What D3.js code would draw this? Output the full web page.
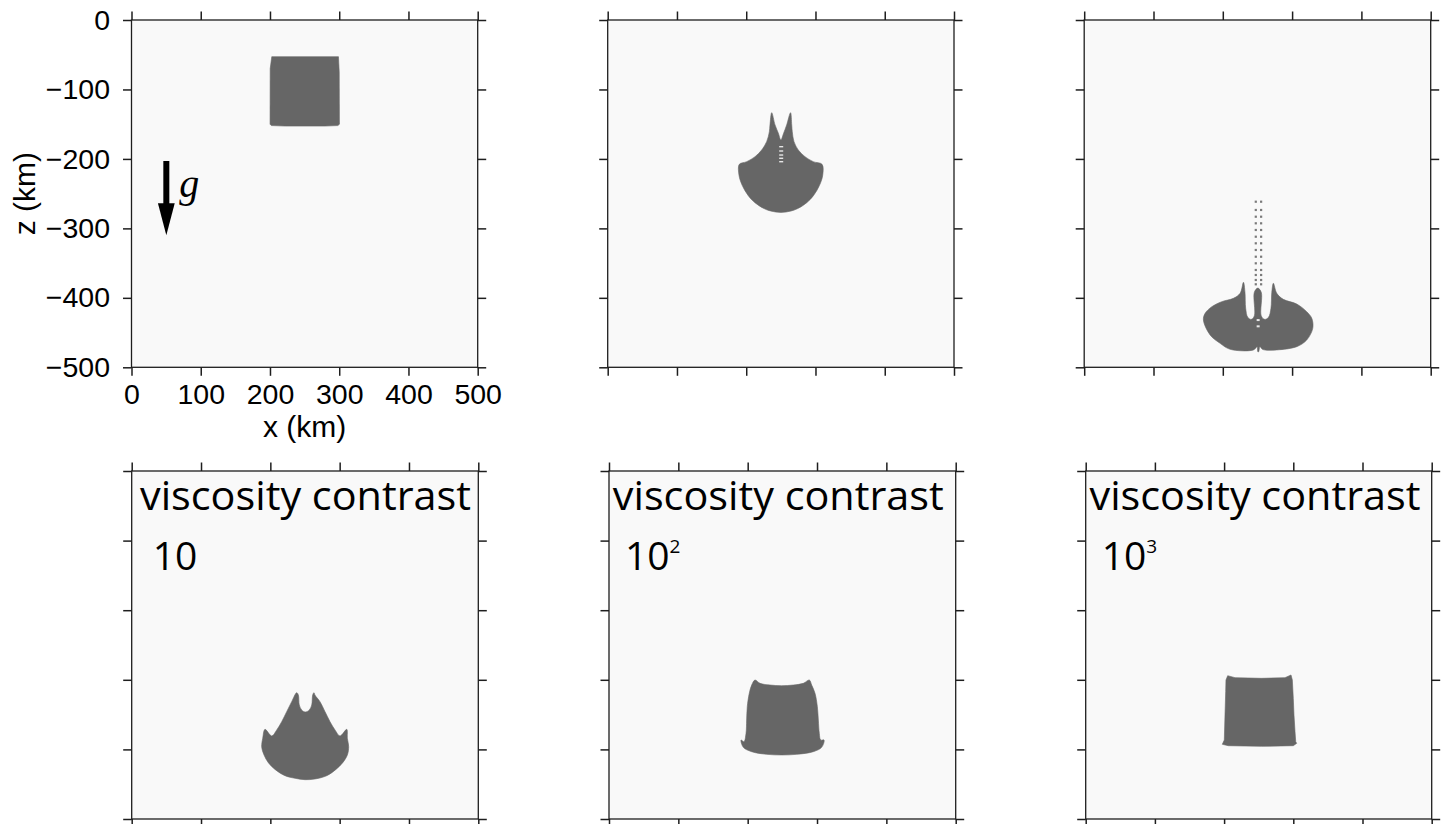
<!DOCTYPE html>
<html>
<head>
<meta charset="utf-8">
<script src="https://cdn.jsdelivr.net/npm/d3@7"></script>
<style>
  html, body { margin: 0; padding: 0; background: #ffffff; }
  svg { display: block; }
</style>
</head>
<body>
<svg id="fig" width="1445" height="824"></svg>
<script>
// Sinking dense block in a 500 x 500 km box: composition snapshots.
const xTicks = [0, 100, 200, 300, 400, 500];
const zTicks = [0, -100, -200, -300, -400, -500];

// Block outlines, [x km, z km]
const blockInitial = [
  [202.6, -52.8], [298.9, -52.8], [300.0, -75], [300.3, -150], [298.0, -152],
  [279.6, -152.7], [221.8, -152.7], [202.0, -152], [200.1, -150], [200.3, -70]
];
const blockEarly = [
  [236.8, -133.4], [241.6, -151], [246.4, -163], [250.0, -172.5], [254.0, -163],
  [258.4, -151], [264.0, -133.4], [265.7, -151], [266.5, -160.8], [269.0, -175.2],
  [275.2, -187.2], [284.9, -196.8], [296.9, -204], [309.5, -207.8], [310.5, -223],
  [305.8, -238], [297.0, -253], [287.4, -263], [275.3, -271], [264.8, -275],
  [250.0, -277], [235.2, -275], [224.7, -271], [212.6, -263], [203.0, -253],
  [194.2, -238], [189.5, -223], [190.0, -207.8], [200.6, -204], [212.7, -196.8],
  [222.3, -187.2], [229.5, -175.2], [233.4, -160.8], [234.3, -151]
];
const blockLate = [
  [229.8, -377.7], [232.0, -392], [233.0, -415], [236.0, -428], [241.0, -431],
  [245.5, -426], [245.5, -392], [250.5, -386], [255.5, -392], [255.5, -426],
  [260.5, -431], [266.0, -428], [269.5, -415], [270.7, -392], [273.0, -379],
  [277.9, -393.5], [287.4, -402.2], [306.7, -408.9], [321.1, -420], [328.4, -429.5],
  [329.8, -443.9], [321.1, -460.7], [306.7, -470.3], [277.9, -475], [258.0, -474.5],
  [253.5, -470.3], [251.8, -477.5], [250.6, -477.5], [249.5, -470.3], [244.2, -475],
  [210.6, -474.1], [196.1, -465.5], [181.7, -453.5], [172.0, -431.9], [174.5, -422.3],
  [184.2, -412.7], [198.5, -405.5], [215.3, -400.7], [225.0, -393.5]
];
const blockContrast1 = [
  [238.0, -318.5], [240.4, -321.8], [241.8, -336.2], [245.2, -343.4], [250.5, -346.3],
  [256.2, -343.4], [259.7, -336.2], [261.1, -321.8], [263.0, -318.5], [264.4, -322],
  [271.6, -331.4], [278.9, -345.8], [286.1, -360.2], [293.3, -372.1], [300.5, -380.7],
  [310.2, -371.2], [311.1, -384.1], [313.0, -396.1], [311.1, -408], [304.4, -419.1],
  [294.7, -428.7], [281.3, -437.8], [264.4, -442.5], [250.0, -443.5], [235.6, -441.5],
  [221.2, -437.8], [206.7, -428.7], [197.1, -419.1], [190.9, -408], [187.5, -396.1],
  [189.0, -384.1], [192.3, -371.2], [202.0, -380.7], [209.2, -372.1], [216.4, -360.2],
  [223.6, -345.8], [230.8, -331.4]
];
const blockContrast2 = [
  [210.6, -300.3], [217.8, -305.1], [232.2, -307.5], [249.0, -308.5], [265.8, -307.5],
  [280.2, -305.1], [288.9, -300.3], [292.3, -307.5], [297.1, -319.4], [300.5, -338.6],
  [301.9, -357.8], [303.3, -376.9], [305.3, -386.5], [310.1, -386.5], [306.7, -397],
  [294.6, -403.3], [270.7, -407.1], [249.0, -408.0], [227.4, -407.1], [205.8, -403.3],
  [193.7, -397], [190.4, -386.5], [194.7, -388.9], [197.6, -376.9], [198.5, -357.8],
  [199.4, -338.6], [202.3, -319.4], [205.8, -307.5]
];
const blockContrast3 = [
  [205.2, -294.1], [215.8, -296.9], [254.3, -297.9], [288.0, -296.9], [296.7, -293.1],
  [298.6, -300.3], [300.0, -326.7], [301.0, -350.6], [302.5, -374.6], [303.5, -388.9],
  [304.9, -391.3], [300.0, -394.7], [254.3, -395.6], [206.1, -394.7], [197.4, -392.7],
  [200.3, -386.5], [201.3, -350.6], [202.3, -317.1], [202.7, -300.3]
];

// Light gaps inside the early-stage block, z km
const earlyGaps = [-182.4, -188.6, -194.4, -199.1, -204.0];
// Trailing conduit left behind by the late-stage block
const conduitX = [247.6, 255.3];
const conduitZ = [-261.6, -273.5, -283.2, -292.7, -302.3, -312.0, -321.5, -331.1,
                  -340.8, -350.3, -359.9, -367.1, -374.3, -380.5];
const lateSpecks = [[251.0, -432.0], [251.0, -441.0]];

// Gravity arrow (km)
const gravity = { x: 50.3, zTop: -203, zHead: -264, zTip: -310 };

const contrastTitle = "viscosity contrast";
const contrastBase = ["10", "10", "10"];
const contrastExp = [null, "2", "3"];

const panels = [
  { left: 131.5, top: 20,  w: 346.2, h: 347.3, shape: blockInitial, smooth: false, labels: true },
  { left: 607.7, top: 20,  w: 346.3, h: 347.3, shape: blockEarly, smooth: true },
  { left: 1084.2, top: 20, w: 346.5, h: 347.3, shape: blockLate, smooth: true },
  { left: 131.7, top: 471, w: 346.6, h: 348, shape: blockContrast1, smooth: true, contrast: 0 },
  { left: 609.0, top: 471, w: 346.7, h: 348, shape: blockContrast2, smooth: true, contrast: 1 },
  { left: 1085.7, top: 471, w: 346.0, h: 348, shape: blockContrast3, smooth: false, contrast: 2 }
];

const svg = d3.select("#fig");
const FRAME = "#1e1e1e";
const BLOCK = "#666666";
const FIELD = "#f9f9f9";
const TICK = 8.5;

panels.forEach((p, i) => {
  const x = d3.scaleLinear().domain([0, 500]).range([0, p.w]);
  const y = d3.scaleLinear().domain([0, -500]).range([0, p.h]);
  const g = svg.append("g").attr("transform", `translate(${p.left},${p.top})`);

  g.append("rect").attr("width", p.w).attr("height", p.h).attr("fill", FIELD);

  const line = d3.line().x(d => x(d[0])).y(d => y(d[1]))
    .curve(p.smooth ? d3.curveCatmullRomClosed.alpha(0.5) : d3.curveLinearClosed);
  g.append("path").attr("d", line(p.shape)).attr("fill", BLOCK)
    .attr("stroke", BLOCK).attr("stroke-width", 0.6).attr("stroke-linejoin", "round");

  if (i === 1) {
    g.selectAll("rect.gap").data(earlyGaps).join("rect").attr("class", "gap")
      .attr("x", x(247.6)).attr("width", x(253.4) - x(247.6))
      .attr("y", d => y(d) - 0.7).attr("height", 1.4).attr("fill", "#e6e6e6");
  }
  if (i === 2) {
    const dots = conduitZ.flatMap(z => conduitX.map(cx => [cx, z]));
    g.selectAll("rect.dot").data(dots).join("rect").attr("class", "dot")
      .attr("x", d => x(d[0]) - 1.1).attr("y", d => y(d[1]) - 1.1)
      .attr("width", 2.2).attr("height", 2.2).attr("fill", "#7a7a7a");
    g.selectAll("rect.speck").data(lateSpecks).join("rect").attr("class", "speck")
      .attr("x", d => x(d[0]) - 1.5).attr("y", d => y(d[1]) - 1)
      .attr("width", 3).attr("height", 2).attr("fill", "#e8e8e8");
  }

  // axes on all four sides, ticks pointing outward
  const left = d3.axisLeft(y).tickValues(zTicks).tickSize(TICK).tickPadding(13);
  const bottom = d3.axisBottom(x).tickValues(xTicks).tickSize(TICK).tickPadding(7.5);
  if (!p.labels) { left.tickFormat(() => ""); bottom.tickFormat(() => ""); }
  const right = d3.axisRight(y).tickValues(zTicks).tickSize(TICK).tickFormat(() => "");
  const top = d3.axisTop(x).tickValues(xTicks).tickSize(TICK).tickFormat(() => "");

  const style = sel => {
    sel.select(".domain").remove();
    sel.selectAll(".tick line").attr("stroke", FRAME).attr("stroke-width", 1.5);
    sel.selectAll(".tick text").attr("fill", "#000")
      .style("font-family", "'Liberation Sans', Arial, sans-serif").style("font-size", "28.5px");
  };
  g.append("g").call(left).call(style);
  g.append("g").attr("transform", `translate(0,${p.h})`).call(bottom).call(style);
  g.append("g").attr("transform", `translate(${p.w},0)`).call(right).call(style);
  g.append("g").call(top).call(style);

  g.append("rect").attr("width", p.w).attr("height", p.h)
    .attr("fill", "none").attr("stroke", FRAME).attr("stroke-width", 1.3);

  if (p.labels) {
    g.append("text").attr("x", p.w / 2).attr("y", 417)
      .attr("text-anchor", "middle")
      .style("font-family", "'Liberation Sans', Arial, sans-serif").style("font-size", "30px")
      .text("x (km)");
    g.append("text").attr("transform", `translate(${35 - p.left},${p.h / 2}) rotate(-90)`)
      .attr("text-anchor", "middle")
      .style("font-family", "'Liberation Sans', Arial, sans-serif").style("font-size", "30px")
      .text("z (km)");

    // gravity arrow
    const ax = x(gravity.x), yTop = y(gravity.zTop), yHead = y(gravity.zHead), yTip = y(gravity.zTip);
    g.append("rect").attr("x", ax - 3).attr("y", yTop).attr("width", 6)
      .attr("height", yHead - yTop + 1).attr("fill", "#000");
    g.append("path").attr("d", `M${ax - 8.4},${yHead} L${ax + 8.4},${yHead} L${ax},${yTip} Z`)
      .attr("fill", "#000");
    g.append("text").attr("x", ax + 13).attr("y", yTop + 36)
      .style("font-family", "'Liberation Serif', 'Times New Roman', serif")
      .style("font-style", "italic").style("font-size", "40px").text("g");
  }

  if (p.contrast !== undefined) {
    const k = p.contrast;
    const titleX = k === 0 ? 8.3 : 3.8;
    const numX = k === 0 ? 21 : 16;
    g.append("text").attr("x", titleX).attr("y", 39)
      .style("font-family", "'Open Sans', 'Noto Sans', sans-serif").style("font-size", "41px")
      .attr("textLength", 331).attr("lengthAdjust", "spacingAndGlyphs")
      .text(contrastTitle);
    const t = g.append("text").attr("x", numX).attr("y", 99)
      .style("font-family", "'Open Sans', 'Noto Sans', sans-serif").style("font-size", "39px");
    t.append("tspan").text(contrastBase[k]);
    if (contrastExp[k]) {
      t.append("tspan").attr("dy", -17).style("font-size", "19px").text(contrastExp[k]);
    }
  }
});
</script>
</body>
</html>
